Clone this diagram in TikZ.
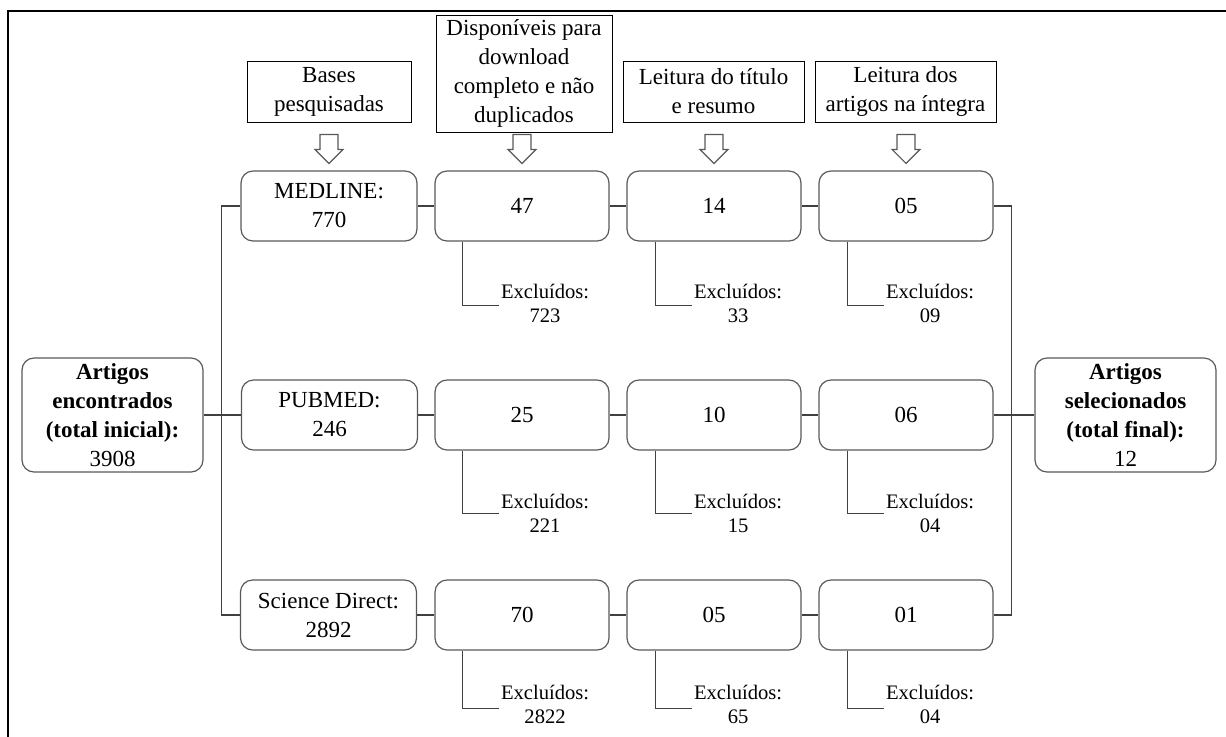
\documentclass[tikz,border=0pt]{standalone}
\usepackage{fontspec}
\setmainfont{Liberation Serif}
\usetikzlibrary{calc}
\definecolor{boxgray}{HTML}{595959}
\definecolor{lingray}{HTML}{404040}
\begin{document}
\begin{tikzpicture}[x=0.5pt,y=-0.5pt,
  rbox/.style={draw=boxgray, line width=0.6pt, rounded corners=6pt, align=center, inner sep=0pt,
    minimum width=87pt, minimum height=35pt, font=\fontsize{11.5}{14.5}\selectfont},
  bigbox/.style={rbox, minimum width=90.5pt, minimum height=57pt},
  hbox/.style={draw=black, line width=0.5pt, align=center, inner sep=0pt,
    minimum height=30.5pt, font=\fontsize{11.5}{14.5}\selectfont},
  conn/.style={draw=lingray, line width=0.6pt},
  excl/.style={anchor=west, align=center, inner sep=0.5pt, font=\fontsize{10.3}{12}\selectfont},
  harrow/.style={draw=boxgray, line width=0.6pt, fill=white, line join=miter}
]
\useasboundingbox (0,0) rectangle (1226,736);
\draw[line width=1.1pt] (8,740) -- (8,11) -- (1230,11);

% header boxes
\node[hbox, minimum width=82pt] (h1) at (329,91.5) {Bases\\pesquisadas};
\node[hbox, minimum width=88pt, minimum height=58.5pt] (h2) at (524,73.5) {Disponíveis para\\download\\completo e não\\duplicados};
\node[hbox, minimum width=90.5pt] (h3) at (713.5,91.5) {Leitura do título\\e resumo};
\node[hbox, minimum width=90.5pt] (h4) at (905.5,91.5) {Leitura dos\\artigos na íntegra};

% row boxes
\node[rbox, minimum width=88pt] (a1) at (329,206) {MEDLINE:\\770};
\node[rbox] (a2) at (522,206) {47};
\node[rbox] (a3) at (714,206) {14};
\node[rbox] (a4) at (906,206) {05};

\node[rbox, minimum width=88pt] (b1) at (329.5,415) {PUBMED:\\246};
\node[rbox] (b2) at (522,415) {25};
\node[rbox] (b3) at (714,415) {10};
\node[rbox] (b4) at (906,415) {06};

\node[rbox, minimum width=88pt] (c1) at (328.5,615) {Science Direct:\\2892};
\node[rbox] (c2) at (522,615) {70};
\node[rbox] (c3) at (714,615) {05};
\node[rbox] (c4) at (906,615) {01};

\node[bigbox] (L) at (112.5,415) {\textbf{Artigos}\\\textbf{encontrados}\\\textbf{(total inicial):}\\3908};
\node[bigbox] (R) at (1125.5,415) {\textbf{Artigos}\\\textbf{selecionados}\\\textbf{(total final):}\\12};

% hollow arrows
\foreach \n in {a1,a2,a3,a4}{
  \draw[harrow] ($(\n.north)+(-9,-36)$) -- ($(\n.north)+(9,-36)$) -- ($(\n.north)+(9,-21)$)
    -- ($(\n.north)+(14,-21)$) -- ($(\n.north)+(0,-7)$) -- ($(\n.north)+(-14,-21)$)
    -- ($(\n.north)+(-9,-21)$) -- cycle;
}

% row connectors
\draw[conn] (a1.east) -- (a2.west);
\draw[conn] (a2.east) -- (a3.west);
\draw[conn] (a3.east) -- (a4.west);
\draw[conn] (b1.east) -- (b2.west);
\draw[conn] (b2.east) -- (b3.west);
\draw[conn] (b3.east) -- (b4.west);
\draw[conn] (c1.east) -- (c2.west);
\draw[conn] (c2.east) -- (c3.west);
\draw[conn] (c3.east) -- (c4.west);

% left bus
\draw[conn] (L.east) -- (b1.west);
\draw[conn] (a1.west) -- ++(-19,0) |- (c1.west);
% right bus
\draw[conn] (b4.east) -- (R.west);
\draw[conn] (a4.east) -- ++(18,0) |- (c4.east);

% excluded
\draw[conn] ($(a2.south west)+(28,0)$) -- ++(0,64) -- ++(37,0) node[excl, yshift=1pt] {Excluídos:\\723};
\draw[conn] ($(a3.south west)+(29,0)$) -- ++(0,64) -- ++(37,0) node[excl, yshift=1pt] {Excluídos:\\33};
\draw[conn] ($(a4.south west)+(29,0)$) -- ++(0,64) -- ++(37,0) node[excl, yshift=1pt] {Excluídos:\\09};

\draw[conn] ($(b2.south west)+(28,0)$) -- ++(0,63) -- ++(37,0) node[excl] {Excluídos:\\221};
\draw[conn] ($(b3.south west)+(29,0)$) -- ++(0,63) -- ++(37,0) node[excl] {Excluídos:\\15};
\draw[conn] ($(b4.south west)+(29,0)$) -- ++(0,63) -- ++(37,0) node[excl] {Excluídos:\\04};

\draw[conn] ($(c2.south west)+(28,0)$) -- ++(0,58) -- ++(37,0) node[excl, yshift=2pt] {Excluídos:\\2822};
\draw[conn] ($(c3.south west)+(29,0)$) -- ++(0,58) -- ++(37,0) node[excl, yshift=2pt] {Excluídos:\\65};
\draw[conn] ($(c4.south west)+(29,0)$) -- ++(0,58) -- ++(37,0) node[excl, yshift=2pt] {Excluídos:\\04};
\end{tikzpicture}
\end{document}
